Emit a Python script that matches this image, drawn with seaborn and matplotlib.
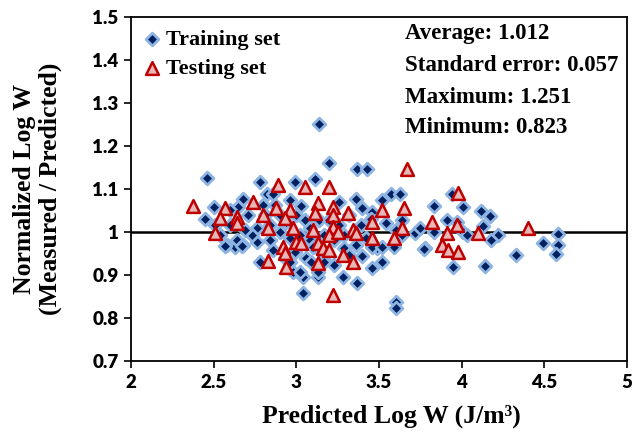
import matplotlib
matplotlib.use("Agg")
import matplotlib.pyplot as plt
import seaborn as sns
import pandas as pd

# values
train_x = [3.14, 2.46, 2.78, 2.99, 3.11, 2.82, 2.86, 2.50, 2.68, 2.65,
           2.80, 2.96, 3.03, 2.45, 2.58, 2.63, 2.64, 2.68, 2.76, 2.76,
           2.78, 2.98, 3.04, 3.04, 3.06, 3.13, 3.20, 3.37, 3.43, 3.36,
           3.40, 3.52, 3.57, 3.63, 3.83, 3.94, 4.01, 3.72, 3.78, 3.95,
           3.52, 3.46, 3.37, 3.28, 3.60, 3.60, 3.17, 3.49, 3.59, 4.12,
           4.17, 4.13, 3.97, 4.01, 4.22, 4.18, 4.58, 4.49, 4.58, 4.57,
           4.33, 4.14, 3.46, 3.64, 3.91, 3.60, 2.57, 2.67, 2.86, 2.99,
           3.02, 3.13, 3.17, 3.40, 3.46, 3.52, 3.83, 4.03, 3.64, 3.77,
           3.36, 2.90, 2.94, 3.00, 3.05, 3.08, 3.14, 3.17, 3.23, 3.26,
           3.29, 3.32, 3.02, 2.96, 2.90, 2.84, 2.81, 2.87, 3.08, 3.14,
           3.29, 3.20, 3.39, 3.42, 3.32, 3.23, 2.93, 2.84, 2.73, 2.71,
           2.60, 2.54, 2.51, 2.60, 2.69, 3.26, 3.45, 3.54, 3.75, 3.09,
           2.96, 3.10]
train_y = [1.251, 1.126, 1.116, 1.116, 1.123, 1.088, 1.088, 1.058, 1.077, 1.058,
           1.063, 1.074, 1.060, 1.030, 0.970, 0.965, 0.981, 0.970, 0.977, 1.009,
           0.930, 0.907, 0.895, 0.858, 0.940, 0.895, 1.160, 1.147, 1.147, 1.077,
           1.056, 1.074, 1.088, 1.088, 1.060, 1.088, 1.058, 0.998, 0.963, 0.919,
           0.930, 0.916, 0.881, 0.895, 0.837, 0.823, 0.935, 0.963, 0.965, 1.049,
           1.037, 1.014, 1.023, 1.000, 0.993, 0.981, 0.995, 0.974, 0.970, 0.949,
           0.947, 0.921, 1.047, 1.028, 1.028, 1.005, 0.967, 0.967, 0.958, 0.953,
           0.907, 0.907, 0.930, 0.944, 0.965, 0.965, 1.000, 0.993, 0.993, 0.960,
           0.970, 1.040, 1.023, 1.040, 1.028, 1.009, 1.028, 0.993, 0.981, 1.016,
           0.993, 1.040, 0.993, 0.986, 1.000, 1.016, 1.040, 1.063, 0.981, 0.958,
           0.963, 1.028, 1.016, 0.986, 0.947, 0.923, 0.940, 0.981, 0.993, 1.040,
           1.016, 0.993, 1.016, 1.051, 1.005, 1.070, 1.030, 1.021, 1.009, 0.930,
           0.930, 0.965]

test_x = [2.89, 3.05, 2.375, 2.57, 2.74, 2.88, 2.96, 3.13, 3.11, 2.54,
          2.64, 2.64, 2.51, 2.80, 2.83, 2.93, 2.98, 2.92, 2.93, 3.00,
          3.03, 3.10, 3.13, 3.13, 2.83, 2.94, 3.67, 3.20, 3.22, 3.31,
          3.52, 3.65, 3.98, 3.22, 3.22, 3.20, 3.25, 3.34, 3.36, 3.46,
          3.46, 3.64, 3.59, 3.82, 3.97, 3.91, 3.88, 3.92, 3.98, 3.16,
          3.28, 3.34, 3.22, 4.10, 4.40, 3.20]
test_y = [1.109, 1.105, 1.060, 1.056, 1.070, 1.056, 1.051, 1.067, 1.044, 1.033,
          1.035, 1.021, 0.998, 1.040, 1.009, 1.033, 1.009, 0.965, 0.951, 0.977,
          0.974, 1.005, 0.974, 0.928, 0.933, 0.919, 1.147, 1.105, 1.058, 1.044,
          1.051, 1.056, 1.091, 1.040, 1.012, 0.993, 1.000, 1.005, 0.998, 1.023,
          0.986, 1.009, 0.986, 1.023, 1.016, 0.998, 0.970, 0.958, 0.953, 0.963,
          0.947, 0.930, 0.853, 0.998, 1.009, 0.958]

x_ticks = [2, 2.5, 3, 3.5, 4, 4.5, 5]
x_labels = ['2', '2.5', '3', '3.5', '4', '4.5', '5']
y_ticks = [0.7, 0.8, 0.9, 1.0, 1.1, 1.2, 1.3, 1.4, 1.5]
y_labels = ['0.7', '0.8', '0.9', '1', '1.1', '1.2', '1.3', '1.4', '1.5']

stats_lines = ['Average: 1.012', 'Standard error: 0.057',
               'Maximum: 1.251', 'Minimum: 0.823']

df_train = pd.DataFrame({'pred': train_x, 'ratio': train_y})
df_test = pd.DataFrame({'pred': test_x, 'ratio': test_y})

sns.set_style('ticks')
plt.rcParams['font.family'] = ['Liberation Serif', 'DejaVu Serif']
plt.rcParams['font.weight'] = 'bold'
plt.rcParams['text.color'] = 'black'
plt.rcParams['axes.labelcolor'] = 'black'

fig = plt.figure(figsize=(6.43, 4.33), dpi=100)
ax = fig.add_axes([0.2037, 0.166, 0.7714, 0.795])

ax.axhline(1.0, color='black', linewidth=1.8, zorder=1)

sns.scatterplot(data=df_train, x='pred', y='ratio', marker='D', s=42,
                color='#002060', edgecolor='#8DB4E2', linewidth=2.0,
                ax=ax, zorder=3, label='Training set')
sns.scatterplot(data=df_test, x='pred', y='ratio', marker='^', s=85,
                color='#E6B9B8', edgecolor='#C00000', linewidth=1.8,
                ax=ax, zorder=4, label='Testing set')

ax.set_xlim(2, 5)
ax.set_ylim(0.7, 1.5)
ax.set_xticks(x_ticks)
ax.set_xticklabels(x_labels, fontfamily='Lato', fontweight='heavy', fontsize=13.5)
ax.set_yticks(y_ticks)
ax.set_yticklabels(y_labels, fontfamily='Lato', fontweight='heavy', fontsize=13.5)
ax.tick_params(direction='out', length=5, width=1.2, colors='black', pad=4)

for sp in ax.spines.values():
    sp.set_visible(True)
    sp.set_color('black')
    sp.set_linewidth(1.3)

ax.set_xlabel('Predicted Log W (J/m³)', fontsize=18.5, fontweight='bold')
ax.xaxis.set_label_coords(0.524, -0.125)
ax.set_ylabel('Normalized Log W\n(Measured / Predicted)', fontsize=18.5,
              fontweight='bold', linespacing=1.1)
ax.yaxis.set_label_coords(-0.140, 0.5)

ax.legend(loc='upper left', bbox_to_anchor=(-0.012, 1.01), frameon=False,
          prop={'family': 'Liberation Serif', 'weight': 'bold', 'size': 16},
          handlelength=1.0, handletextpad=0.15, labelspacing=0.4,
          borderaxespad=0.3)

stat_y = [0.953, 0.860, 0.767, 0.680]
for line, yy in zip(stats_lines, stat_y):
    ax.text(0.552, yy, line, transform=ax.transAxes, fontsize=16.5,
            fontweight='bold', va='center', ha='left')

fig.savefig('out.png', dpi=100)
